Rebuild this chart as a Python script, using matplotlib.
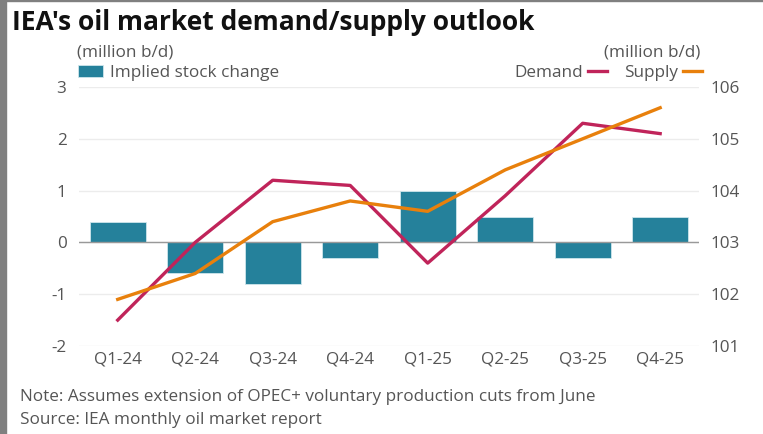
import matplotlib
matplotlib.use('Agg')
import matplotlib.pyplot as plt
import numpy as np

quarters = ['Q1-24', 'Q2-24', 'Q3-24', 'Q4-24', 'Q1-25', 'Q2-25', 'Q3-25', 'Q4-25']
stock_change = [0.4, -0.6, -0.8, -0.3, 1.0, 0.5, -0.3, 0.5]
demand = [101.5, 103.0, 104.2, 104.1, 102.6, 103.9, 105.3, 105.1]
supply = [101.9, 102.4, 103.4, 103.8, 103.6, 104.4, 105.0, 105.6]
left_ticks = [-2, -1, 0, 1, 2, 3]
right_ticks = [101, 102, 103, 104, 105, 106]

BAR = '#25819b'
DEM = '#c0245a'
SUP = '#e8800c'
TXT = '#555555'
FS = 12.3

plt.rcParams['font.family'] = ['Open Sans', 'DejaVu Sans']
plt.rcParams['axes.unicode_minus'] = False

fig = plt.figure(figsize=(7.63, 4.34), dpi=100)
ax = fig.add_axes([0.1035, 0.2028, 0.8125, 0.5967])
ax2 = ax.twinx()

x = np.arange(len(quarters))
bars = ax.bar(x, stock_change, width=0.72, color=BAR, edgecolor='#cfe6ec', linewidth=0.6, zorder=2)
ax.axhline(0, color='#999999', linewidth=1, zorder=3)

ax2.plot(x, demand, color=DEM, linewidth=2.4, label='Demand', zorder=4)
ax2.plot(x, supply, color=SUP, linewidth=2.4, label='Supply', zorder=4)

ax.set_xlim(-0.5, 7.5)
ax.set_ylim(-2, 3)
ax2.set_ylim(101, 106)
ax.set_yticks(left_ticks)
ax2.set_yticks(right_ticks)
ax.set_xticks(x)
ax.set_xticklabels(quarters)

for a in (ax, ax2):
    for s in a.spines.values():
        s.set_visible(False)
    a.tick_params(length=0, labelsize=FS, colors=TXT)
ax.tick_params(axis='y', pad=9)
ax2.tick_params(axis='y', pad=8)
ax.tick_params(axis='x', pad=4)
ax.grid(axis='y', color='#ececec', linewidth=1)
ax.set_axisbelow(True)
ax.set_zorder(ax2.get_zorder() - 1)
ax.patch.set_visible(False)
ax2.patch.set_visible(False)

fig.text(0.016, 0.948, "IEA's oil market demand/supply outlook", fontsize=19, fontweight='bold',
         color='#111111', va='center', ha='left')
fig.text(0.101, 0.880, '(million b/d)', fontsize=FS, color=TXT, va='center', ha='left')
fig.text(0.918, 0.880, '(million b/d)', fontsize=FS, color=TXT, va='center', ha='right')

fig.legend([bars], ['Implied stock change'], loc='center left', bbox_to_anchor=(0.102, 0.832),
           frameon=False, fontsize=FS, handlelength=1.5, handleheight=0.75, handletextpad=0.4,
           labelcolor=TXT, borderaxespad=0, borderpad=0)
fig.legend(ax2.get_lines(), ['Demand', 'Supply'], loc='center right', bbox_to_anchor=(0.92, 0.832),
           frameon=False, fontsize=FS, handlelength=1.1, handletextpad=0.3, ncol=2,
           columnspacing=1.0, markerfirst=False, labelcolor=TXT, borderaxespad=0, borderpad=0)

fig.text(0.026, 0.085, 'Note: Assumes extension of OPEC+ voluntary production cuts from June',
         fontsize=FS, color=TXT, va='center', ha='left')
fig.text(0.026, 0.032, 'Source: IEA monthly oil market report',
         fontsize=FS, color=TXT, va='center', ha='left')

# grey frame on left and top edge
fig.patches.append(plt.Rectangle((0, 0), 0.008, 1, transform=fig.transFigure, color='#808080', zorder=10))
fig.patches.append(plt.Rectangle((0, 0.997), 1, 0.003, transform=fig.transFigure, color='#808080', zorder=10))

fig.savefig('out.png', dpi=100)
